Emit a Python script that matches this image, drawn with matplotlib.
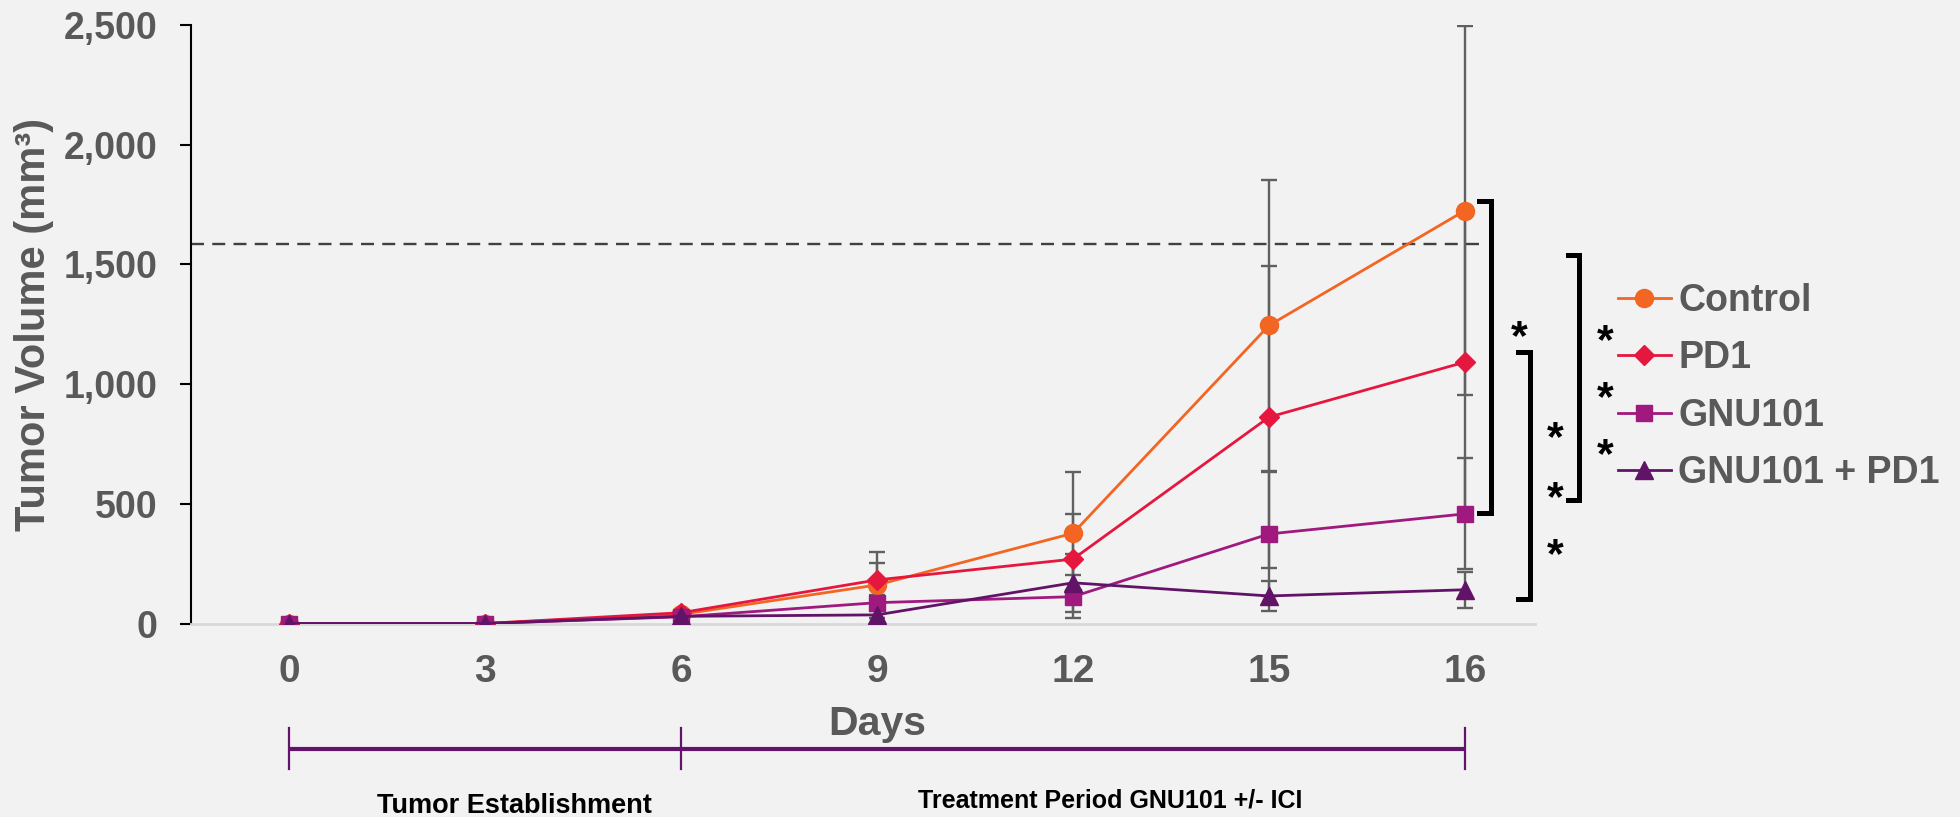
import numpy as np
import matplotlib
matplotlib.use("Agg")
import matplotlib.pyplot as plt
from matplotlib.transforms import blended_transform_factory
from matplotlib.ticker import FuncFormatter

# ---------------- data ----------------
days = ["0", "3", "6", "9", "12", "15", "16"]
series_names = ["Control", "PD1", "GNU101", "GNU101 + PD1"]
control = [0, 0, 38, 161, 377, 1245, 1725]
pd1 = [0, 0, 45, 182, 269, 862, 1092]
gnu101 = [0, 0, 28, 87, 112, 374, 458]
gnu_pd1 = [0, 0, 30, 36, 170, 115, 141]
control_err = [0, 0, 8, 139, 255, 609, 772]
pd1_err = [0, 0, 8, 69, 188, 632, 633]
gnu101_err = [0, 0, 6, 32, 90, 260, 232]
gnu_pd1_err = [0, 0, 6, 15, 121, 63, 75]
threshold = 1585
y_ticks = [0, 500, 1000, 1500, 2000, 2500]
phase_days = ["0", "6", "16"]
phase_labels = ["Tumor Establishment", "Treatment Period GNU101 +/- ICI"]
# significance brackets: (top value, bottom value) and star positions
brackets = [(1766, 460), (1135, 102), (1539, 516)]
star_vals = [[1249], [823, 576, 337], [1232, 993, 754]]

colors = ["#F26522", "#E5173F", "#A0197F", "#611467"]
markers = ["o", "D", "s", "^"]
msizes = [13, 10.5, 11.5, 12.5]
gray = "#595959"

plt.rcParams['font.family'] = ['Liberation Sans', 'DejaVu Sans']

fig = plt.figure(figsize=(19.6, 8.17), dpi=100, facecolor="#F2F2F2")
W, H = 1960, 817
ax_l, ax_r, ax_t, ax_b = 191, 1535, 25, 623.5
ax = fig.add_axes([ax_l / W, 1 - ax_b / H, (ax_r - ax_l) / W, (ax_b - ax_t) / H])
ax.set_facecolor("#F2F2F2")

x = np.arange(len(days))
vals = [control, pd1, gnu101, gnu_pd1]
errs = [control_err, pd1_err, gnu101_err, gnu_pd1_err]

for v, e in zip(vals, errs):
    ax.errorbar(x, v, yerr=e, fmt="none", ecolor="#606060", elinewidth=1.7,
                capsize=6, capthick=1.7, zorder=2)
handles = []
for v, c, m, ms, name in zip(vals, colors, markers, msizes, series_names):
    h, = ax.plot(x, v, color=c, marker=m, markersize=ms, linewidth=2.0,
                 markeredgecolor=c, label=name, zorder=3)
    handles.append(h)

ax.plot([-0.5, 6.1], [threshold, threshold], linestyle=(0, (5.5, 3.5)),
        color="#404040", linewidth=1.7, zorder=1)

# category spacing 196 px: 0 at 289 px, right edge at 1535 px
ax.set_xlim(-0.5, -0.5 + (ax_r - ax_l) / 196.0)
ax.set_ylim(0, 2500)
ax.set_yticks(y_ticks)
ax.yaxis.set_major_formatter(FuncFormatter(lambda v, p: f"{int(v):,}"))
ax.set_xticks(x)
ax.set_xticklabels(days)
for sp in ["top", "right"]:
    ax.spines[sp].set_visible(False)
ax.spines["left"].set_color("black")
ax.spines["left"].set_linewidth(1.5)
ax.spines["bottom"].set_color("#D9D9D9")
ax.spines["bottom"].set_linewidth(2)
ax.tick_params(axis="y", length=8, width=1.5, color="black", pad=16,
               labelsize=27, labelcolor=gray)
ax.tick_params(axis="x", length=0, pad=22, labelsize=28, labelcolor=gray)
for lab in ax.get_xticklabels() + ax.get_yticklabels():
    lab.set_fontweight("bold")

fig.text(34 / W, 1 - 324 / H, "Tumor Volume (mm³)", rotation=90, ha="center",
         va="center", fontsize=30, fontweight="bold", color=gray)

# brackets and stars
tb = blended_transform_factory(ax.transAxes, ax.transData)
def fx(px):
    return (px - ax_l) / (ax_r - ax_l)
br_x = [(1479, 1491), (1518, 1530), (1568, 1579)]
star_x = [1519, 1555, 1605]
sfs = 31
for (top, bot), (xa, xv), sv, sx in zip(brackets, br_x, star_vals, star_x):
    ax.plot([fx(xa), fx(xv), fx(xv), fx(xa)], [top, top, bot, bot], color="black",
            linewidth=3.6, transform=tb, clip_on=False, solid_joinstyle="miter",
            zorder=4)
    for s in sv:
        ax.annotate("*", xy=(fx(sx), s), xycoords=tb, xytext=(0, -0.56 * sfs),
                    textcoords="offset points", ha="center", va="baseline",
                    fontsize=sfs, fontweight="bold", color="black",
                    annotation_clip=False)

leg = ax.legend(handles=handles, loc="center left", bbox_to_anchor=(1618 / W, 1 - 387 / H),
                bbox_transform=fig.transFigure, frameon=False, fontsize=27,
                handlelength=1.4, handletextpad=0.2, labelspacing=0.57,
                borderaxespad=0, borderpad=0)
for t in leg.get_texts():
    t.set_color(gray)
    t.set_fontweight("bold")

# Days label and timeline
tdx = blended_transform_factory(ax.transData, fig.transFigure)
fig.text(3, 1 - 735 / H, "Days", transform=tdx, ha="center", va="baseline",
         fontsize=29.5, fontweight="bold", color=gray)
pd_idx = [days.index(d) for d in phase_days]
line_y = 1 - 749 / H
ax.plot([pd_idx[0], pd_idx[-1]], [line_y, line_y], color="#63136B", linewidth=3,
        transform=tdx, clip_on=False, solid_capstyle="butt")
for p in pd_idx:
    ax.plot([p, p], [1 - 728 / H, 1 - 769 / H], color="#63136B", linewidth=1.6,
            transform=tdx, clip_on=False)
fig.text(514 / W, 1 - 806 / H, phase_labels[0], ha="center", va="center",
         fontsize=19.5, fontweight="bold", color="black",
         family=["Liberation Sans Narrow", "Liberation Sans"])
fig.text(1110 / W, 1 - 800 / H, phase_labels[1], ha="center", va="center",
         fontsize=18, fontweight="bold", color="black",
         family=["Liberation Sans Narrow", "Liberation Sans"])

fig.savefig("out.png", dpi=100, facecolor=fig.get_facecolor())
